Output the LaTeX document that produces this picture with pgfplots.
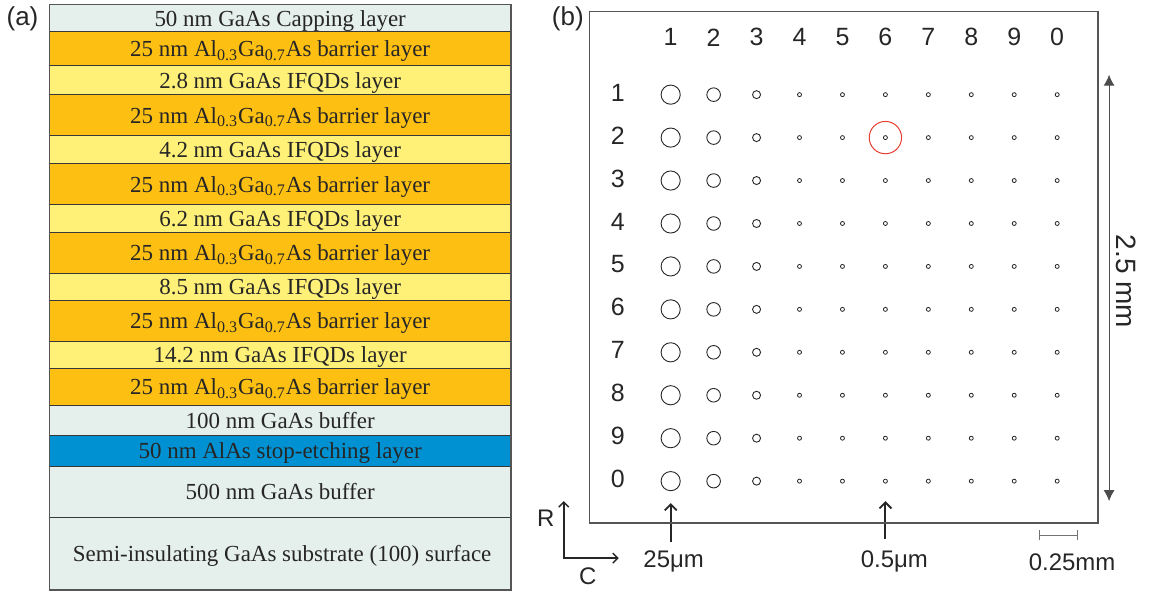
\documentclass[border=0pt]{standalone}
\usepackage{fontspec}
\setmainfont{Liberation Sans}
\newfontfamily\layerfont{Liberation Serif}
\usepackage{pgfplots}
\pgfplotsset{compat=1.18}
\usetikzlibrary{arrows.meta}

% layer colours
\definecolor{gaas}{RGB}{229,239,236}
\definecolor{barrier}{RGB}{253,192,18}
\definecolor{ifqd}{RGB}{255,241,120}
\definecolor{alas}{RGB}{0,145,210}
\definecolor{edge}{RGB}{55,55,55}
\definecolor{frame}{RGB}{85,85,85}
\definecolor{mark}{RGB}{232,62,48}

\newcommand{\lay}{\layerfont\fontsize{11.5}{13}\selectfont}
\newcommand{\alga}{Al\textsubscript{0.3}Ga\textsubscript{0.7}As}

\begin{document}
\begin{tikzpicture}
% ---------------- canvas in pixel units: layer stack (a) and annotations ----------------
\begin{axis}[
  at={(0pt,0pt)}, anchor=north west, scale only axis,
  width=578pt, height=296.5pt,
  xmin=0, xmax=1156, ymin=0, ymax=593, y dir=reverse,
  hide axis, clip=false]
% full drawing area
\path (axis cs:0,0) rectangle (axis cs:1156,593);
% layers, top to bottom (pixel boundaries)
\addplot[fill=gaas,    draw=edge, line width=0.6pt] coordinates {(48,3)   (510,3)   (510,30)  (48,30)}  -- cycle;
\addplot[fill=barrier, draw=edge, line width=0.6pt] coordinates {(48,30)  (510,30)  (510,64)  (48,64)}  -- cycle;
\addplot[fill=ifqd,    draw=edge, line width=0.6pt] coordinates {(48,64)  (510,64)  (510,93)  (48,93)}  -- cycle;
\addplot[fill=barrier, draw=edge, line width=0.6pt] coordinates {(48,93)  (510,93)  (510,134) (48,134)} -- cycle;
\addplot[fill=ifqd,    draw=edge, line width=0.6pt] coordinates {(48,134) (510,134) (510,162) (48,162)} -- cycle;
\addplot[fill=barrier, draw=edge, line width=0.6pt] coordinates {(48,162) (510,162) (510,203) (48,203)} -- cycle;
\addplot[fill=ifqd,    draw=edge, line width=0.6pt] coordinates {(48,203) (510,203) (510,231) (48,231)} -- cycle;
\addplot[fill=barrier, draw=edge, line width=0.6pt] coordinates {(48,231) (510,231) (510,272) (48,272)} -- cycle;
\addplot[fill=ifqd,    draw=edge, line width=0.6pt] coordinates {(48,272) (510,272) (510,299) (48,299)} -- cycle;
\addplot[fill=barrier, draw=edge, line width=0.6pt] coordinates {(48,299) (510,299) (510,340) (48,340)} -- cycle;
\addplot[fill=ifqd,    draw=edge, line width=0.6pt] coordinates {(48,340) (510,340) (510,367) (48,367)} -- cycle;
\addplot[fill=barrier, draw=edge, line width=0.6pt] coordinates {(48,367) (510,367) (510,404) (48,404)} -- cycle;
\addplot[fill=gaas,    draw=edge, line width=0.6pt] coordinates {(48,404) (510,404) (510,434) (48,434)} -- cycle;
\addplot[fill=alas,    draw=edge, line width=0.6pt] coordinates {(48,434) (510,434) (510,465) (48,465)} -- cycle;
\addplot[fill=gaas,    draw=edge, line width=0.6pt] coordinates {(48,465) (510,465) (510,516) (48,516)} -- cycle;
\addplot[fill=gaas,    draw=edge, line width=0.6pt] coordinates {(48,516) (510,516) (510,589) (48,589)} -- cycle;
\draw[frame, line width=0.7pt] (axis cs:48,3) rectangle (axis cs:510,589);

% layer names
\begin{scope}[every node/.style={anchor=base, text=black!85, font=\lay}]
\node at (axis cs:279,24.5)  {50 nm GaAs Capping layer};
\node at (axis cs:279,55)    {25 nm \alga{} barrier layer};
\node at (axis cs:279,86.5)  {2.8 nm GaAs IFQDs layer};
\node at (axis cs:279,121.5) {25 nm \alga{} barrier layer};
\node at (axis cs:279,156)   {4.2 nm GaAs IFQDs layer};
\node at (axis cs:279,190.5) {25 nm \alga{} barrier layer};
\node at (axis cs:279,225)   {6.2 nm GaAs IFQDs layer};
\node at (axis cs:279,259.5) {25 nm \alga{} barrier layer};
\node at (axis cs:279,293.5) {8.5 nm GaAs IFQDs layer};
\node at (axis cs:279,327.5) {25 nm \alga{} barrier layer};
\node at (axis cs:279,361.5) {14.2 nm GaAs IFQDs layer};
\node at (axis cs:279,393.5) {25 nm \alga{} barrier layer};
\node at (axis cs:279,427)   {100 nm GaAs buffer};
\node at (axis cs:279,457.5) {50 nm AlAs stop-etching layer};
\node at (axis cs:279,498.5) {500 nm GaAs buffer};
\node at (axis cs:281,560.5) {Semi-insulating GaAs substrate (100) surface};
\end{scope}

% panel letters
\node[font=\fontsize{13}{15}\selectfont, text=black!85] at (axis cs:21,17) {(a)};
\node[font=\fontsize{13}{15}\selectfont, text=black!85] at (axis cs:567,17) {(b)};

% 2.5 mm span of the array
\draw[black!70, line width=0.5pt, {Latex[length=5.5pt,width=5.5pt]}-{Latex[length=5.5pt,width=5.5pt]}]
  (axis cs:1109,73) -- (axis cs:1109,500);
\node[rotate=-90, font=\fontsize{14}{16}\selectfont, text=black!85] at (axis cs:1126,280) {2.5 mm};

% pointers to the largest and smallest apertures
\draw[black!85, line width=0.9pt, -{Straight Barb[length=3pt,width=6pt]}] (axis cs:670,541) -- (axis cs:670,502);
\draw[black!85, line width=0.9pt, -{Straight Barb[length=3pt,width=6pt]}] (axis cs:885,538) -- (axis cs:885,500);
\node[font=\fontsize{12}{14}\selectfont, text=black!85] at (axis cs:673,560) {25μm};
\node[font=\fontsize{12}{14}\selectfont, text=black!85] at (axis cs:894,560) {0.5μm};

% scale bar
\draw[black!55, line width=0.5pt, {Bar[width=5pt]}-{Bar[width=5pt]}] (axis cs:1039,534) -- (axis cs:1078,534);
\node[font=\fontsize{12}{14}\selectfont, text=black!85] at (axis cs:1072,561) {0.25mm};

% row / column directions
\draw[black!85, line width=0.7pt, {Straight Barb[length=2.5pt,width=5pt]}-{Straight Barb[length=2.5pt,width=5pt]}]
  (axis cs:563,500) -- (axis cs:563,557) -- (axis cs:618,557);
\node[font=\fontsize{12}{14}\selectfont, text=black!85] at (axis cs:545,517) {R};
\node[font=\fontsize{12}{14}\selectfont, text=black!85] at (axis cs:587,575) {C};
\end{axis}

% ---------------- aperture array (b): columns 1..10, rows 1..10 ----------------
\begin{axis}[
  at={(294.5pt,-5pt)}, anchor=north west, scale only axis,
  width=254.5pt, height=256pt,
  xmin=-0.884, xmax=10.953, ymin=-0.930, ymax=10.977, y dir=reverse,
  axis line style={frame, line width=0.7pt},
  major tick length=0pt,
  xtick={1,2,3,4,5,6,7,8,9,10}, xticklabels={1,2,3,4,5,6,7,8,9,0},
  ytick={1,2,3,4,5,6,7,8,9,10}, yticklabels={1,2,3,4,5,6,7,8,9,0},
  xticklabel pos=right,
  xticklabel style={anchor=center, yshift=-12.8pt},
  yticklabel style={anchor=center, xshift=14pt, yshift=1pt},
  ticklabel style={font=\fontsize{12.5}{14}\selectfont, text=black!85},
  clip=false]
\addplot[only marks, mark=o, mark size=4.8pt, mark options={draw=black!85, line width=0.45pt}]
  coordinates {(1,1) (1,2) (1,3) (1,4) (1,5) (1,6) (1,7) (1,8) (1,9) (1,10)};
\addplot[only marks, mark=o, mark size=3.4pt, mark options={draw=black!85, line width=0.45pt}]
  coordinates {(2,1) (2,2) (2,3) (2,4) (2,5) (2,6) (2,7) (2,8) (2,9) (2,10)};
\addplot[only marks, mark=o, mark size=2.0pt, mark options={draw=black!85, line width=0.45pt}]
  coordinates {(3,1) (3,2) (3,3) (3,4) (3,5) (3,6) (3,7) (3,8) (3,9) (3,10)};
\addplot[only marks, mark=o, mark size=1.0pt, mark options={draw=black!85, line width=0.4pt}]
  coordinates {
  (4,1) (4,2) (4,3) (4,4) (4,5) (4,6) (4,7) (4,8) (4,9) (4,10)
  (5,1) (5,2) (5,3) (5,4) (5,5) (5,6) (5,7) (5,8) (5,9) (5,10)
  (6,1) (6,2) (6,3) (6,4) (6,5) (6,6) (6,7) (6,8) (6,9) (6,10)
  (7,1) (7,2) (7,3) (7,4) (7,5) (7,6) (7,7) (7,8) (7,9) (7,10)
  (8,1) (8,2) (8,3) (8,4) (8,5) (8,6) (8,7) (8,8) (8,9) (8,10)
  (9,1) (9,2) (9,3) (9,4) (9,5) (9,6) (9,7) (9,8) (9,9) (9,10)
  (10,1) (10,2) (10,3) (10,4) (10,5) (10,6) (10,7) (10,8) (10,9) (10,10)};
% highlighted aperture (row 2, column 6)
\addplot[only marks, mark=o, mark size=8.1pt, mark options={draw=mark, line width=0.5pt}]
  coordinates {(6,2)};
\end{axis}
\end{tikzpicture}
\end{document}
